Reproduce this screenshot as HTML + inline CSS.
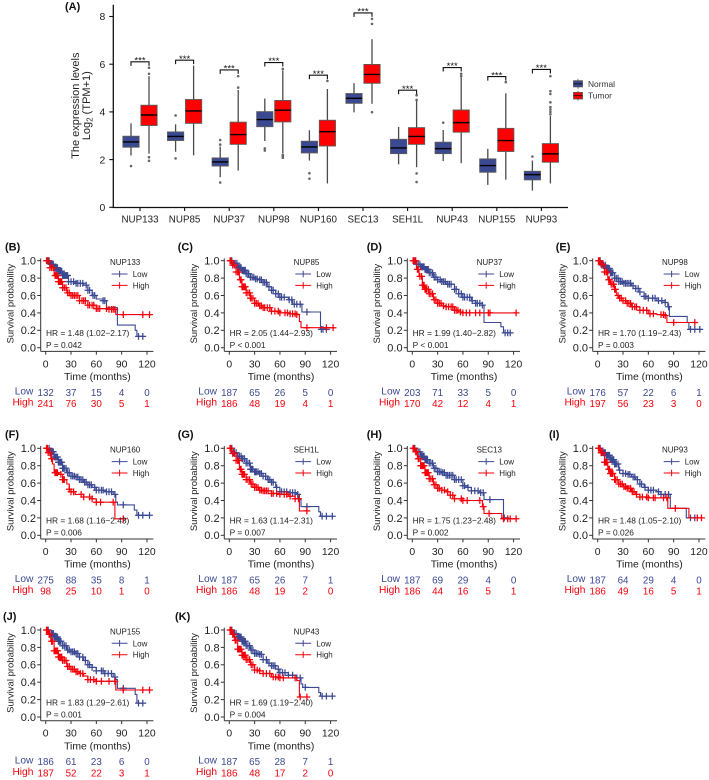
<!DOCTYPE html>
<html lang="en">
<head>
<meta charset="utf-8">
<title>NUP expression and survival</title>
<style>
html,body{margin:0;padding:0;background:#fff;width:709px;height:780px;overflow:hidden}
svg{display:block;font-family:"Liberation Sans",Arial,sans-serif;filter:blur(0.3px)}
</style>
</head>
<body>
<svg id="figure" xmlns="http://www.w3.org/2000/svg" width="709" height="780" viewBox="0 0 709 780">
  <rect x="0" y="0" width="709" height="780" fill="#fff"/>
</svg>
<script>
/* ===== Panel A data ===== */
const boxGenes = ['NUP133','NUP85','NUP37','NUP98','NUP160','SEC13','SEH1L','NUP43','NUP155','NUP93'];
const boxTicks = [0,2,4,6,8];
const normalLo  = [2.17,2.33,1.26,2.78,1.96,3.98,1.80,1.94,0.94,0.70];
const normalQ1  = [2.52,2.80,1.73,3.38,2.28,4.36,2.25,2.25,1.47,1.15];
const normalMed = [2.74,2.97,1.90,3.68,2.53,4.57,2.49,2.46,1.75,1.37];
const normalQ3  = [2.98,3.16,2.07,4.01,2.77,4.77,2.85,2.73,2.03,1.51];
const normalHi  = [3.52,3.48,2.55,4.56,3.23,5.20,3.37,3.24,2.45,1.96];
const normalOutliers = [[1.73],[3.85,2.05],[2.82,2.63,1.04],[2.47,2.38],[1.43,1.20],[],[],[3.55],[],[2.13]];
const tumorLo  = [2.25,2.18,1.54,2.27,1.00,4.34,1.68,1.85,1.16,1.00];
const tumorQ1  = [3.43,3.52,2.64,3.58,2.57,5.20,2.64,3.15,2.34,1.89];
const tumorMed = [3.87,4.04,3.05,4.07,3.17,5.57,2.97,3.55,2.80,2.24];
const tumorQ3  = [4.28,4.52,3.57,4.48,3.65,5.99,3.34,4.08,3.31,2.67];
const tumorHi  = [5.50,5.94,4.92,5.73,4.96,7.05,4.50,5.45,4.78,3.83];
const tumorOutliers = [[5.85,5.60,2.10,1.95],[],[5.50,5.02],[5.80,2.20,2.15,2.08],[5.30],[7.90,7.69,3.99],[4.70,4.50,1.42,1.06],[5.60,5.50],[5.25],[5.50,4.87,4.75,4.40,4.20,4.10,4.00,3.90]];
const bracketTops = [6.10,6.17,5.76,6.07,5.54,8.15,4.91,5.86,5.48,5.78];

/* ===== Survival panel data ===== */
const timeTicks = [0,30,60,90,120];
const survTicks = [0,0.2,0.4,0.6,0.8,1];

const nup133LowT = [0,5,10,15,20,27,35,45,50,55,60,68,72,80,85,104,106,108,115];
const nup133LowS = [1,.96,.92,.88,.83,.76,.74,.72,.66,.60,.56,.54,.46,.46,.26,.26,.20,.13,.13];
const nup133LowC = [2,4,6,7,8,9,10,11,12,13,14,15,16,17,18,19,20,21,22,23,24,25,26,27,30,33,36,38,41,44,48,50,52,56,58,68,70,110,115];
const nup133HighT = [0,5,10,15,20,25,30,40,50,60,75,83,123];
const nup133HighS = [1,.92,.83,.76,.69,.63,.60,.54,.49,.45,.44,.38,.38];
const nup133HighC = [1,3,5,7,9,11,12,13,14,15,16,17,18,19,20,22,24,26,28,30,32,34,36,38,40,43,45,47,50,52,55,57,60,62,64,72,75,78,80,82,92,115,123];
const nup133LowRisk = [132,37,15,4,0];
const nup133HighRisk = [241,76,30,5,1];

const nup85LowT = [0,5,10,15,20,25,30,35,40,45,50,55,60,70,75,85,86,104,108,115];
const nup85LowS = [1,.97,.92,.89,.85,.81,.79,.78,.75,.70,.66,.62,.58,.55,.50,.50,.41,.41,.21,.21];
const nup85LowC = [3,5,7,9,10,11,12,13,14,15,16,17,18,19,20,22,23,25,27,29,31,33,36,38,40,42,44,47,50,52,55,58,60,62,65,71,74,77,80,84,92,109,111,115];
const nup85HighT = [0,3,8,12,15,20,25,30,35,40,50,60,70,80,83,85,123];
const nup85HighS = [1,.95,.87,.78,.70,.63,.57,.51,.48,.46,.42,.40,.39,.38,.30,.23,.23];
const nup85HighC = [1,2,4,6,8,10,11,13,14,15,16,17,18,19,20,22,24,25,26,28,30,32,34,36,38,40,42,45,48,50,54,58,60,66,69,72,75,78,80,92,115,123];
const nup85LowRisk = [187,65,26,5,0];
const nup85HighRisk = [186,48,19,4,1];

const nup37LowT = [0,5,10,15,20,25,30,35,40,50,55,60,70,75,83,85,102,105,108,115];
const nup37LowS = [1,.96,.93,.90,.86,.81,.78,.76,.73,.67,.62,.58,.54,.51,.49,.29,.29,.24,.17,.17];
const nup37LowC = [3,5,7,9,10,11,12,13,14,15,16,17,18,19,20,22,24,26,28,30,33,35,37,39,42,44,46,50,52,55,58,60,62,65,68,71,75,77,80,83,110,113,116];
const nup37HighT = [0,5,8,12,15,20,25,30,35,40,50,55,60,123];
const nup37HighS = [1,.90,.82,.72,.67,.62,.55,.51,.48,.47,.43,.41,.40,.40];
const nup37HighC = [1,2,4,6,7,9,11,12,13,14,15,16,17,19,20,22,24,26,28,30,32,34,37,40,43,46,48,50,52,54,57,60,64,68,75,80,90,92,123];
const nup37LowRisk = [203,71,33,5,0];
const nup37HighRisk = [170,42,12,4,1];

const nup98LowT = [0,5,10,15,20,25,30,40,45,50,55,60,70,80,83,85,104,106,108,124];
const nup98LowS = [1,.95,.91,.86,.80,.76,.74,.71,.68,.64,.59,.57,.54,.52,.47,.36,.36,.29,.21,.21];
const nup98LowC = [3,5,7,9,10,11,12,13,14,15,16,17,18,20,22,24,25,27,29,31,33,35,37,39,42,45,48,50,55,57,60,65,68,72,76,80,84,110,115,121];
const nup98HighT = [0,3,8,12,15,20,22,25,30,35,40,50,60,70,80,82,115];
const nup98HighS = [1,.96,.87,.78,.73,.67,.60,.57,.54,.51,.47,.43,.39,.38,.37,.29,.29];
const nup98HighC = [1,2,4,6,8,10,11,13,14,16,18,19,20,21,24,26,28,30,33,35,37,39,41,44,46,50,54,58,62,66,75,78,80,90,115];
const nup98LowRisk = [176,57,22,6,1];
const nup98HighRisk = [197,56,23,3,0];

const nup160LowT = [0,5,10,15,20,25,30,35,40,45,50,55,60,70,80,83,85,104,105,108,123];
const nup160LowS = [1,.96,.90,.84,.77,.72,.68,.67,.64,.61,.58,.55,.52,.50,.47,.38,.35,.35,.29,.23,.23];
const nup160LowC = [2,4,6,7,8,9,10,11,12,13,14,15,16,17,18,19,20,21,22,24,26,28,30,32,34,36,38,40,42,44,46,48,50,52,54,58,60,63,66,68,72,75,78,82,92,110,115,123];
const nup160HighT = [0,3,6,8,10,15,20,25,28,30,35,45,55,60,80,82,92];
const nup160HighS = [1,.95,.88,.82,.72,.70,.64,.59,.53,.50,.47,.44,.42,.38,.38,.19,.19];
const nup160HighC = [1,2,3,5,7,11,12,13,14,18,20,21,22,28,30,33,42,45,52,55,60,65,80,92];
const nup160LowRisk = [275,88,35,8,1];
const nup160HighRisk = [98,25,10,1,0];

const seh1lLowT = [0,5,10,15,20,25,30,35,40,45,50,55,60,70,80,83,85,104,106,108,123];
const seh1lLowS = [1,.95,.91,.88,.83,.76,.73,.71,.68,.64,.61,.55,.50,.49,.47,.41,.33,.33,.27,.22,.22];
const seh1lLowC = [3,5,6,8,10,12,14,15,16,18,20,22,24,25,26,27,28,30,31,32,34,36,38,40,43,46,48,50,52,56,60,62,65,68,72,75,78,81,92,110,115,122];
const seh1lHighT = [0,3,8,12,15,20,25,30,35,40,50,60,70,78,83,92];
const seh1lHighS = [1,.94,.86,.76,.70,.64,.59,.55,.52,.51,.48,.47,.45,.42,.28,.28];
const seh1lHighC = [1,2,4,6,8,10,11,13,14,15,16,17,18,20,22,24,26,28,30,32,34,36,38,40,42,44,46,50,52,56,60,65,68,72,78,82,92];
const seh1lLowRisk = [187,65,26,7,1];
const seh1lHighRisk = [186,48,19,2,0];

const sec13LowT = [0,5,10,15,20,25,30,35,40,50,60,65,70,80,85,107,108,115];
const sec13LowS = [1,.96,.91,.87,.83,.77,.73,.72,.69,.64,.57,.55,.51,.49,.41,.41,.20,.20];
const sec13LowC = [3,5,7,9,10,11,12,13,14,15,16,17,18,20,22,24,26,28,30,32,34,36,38,40,42,44,46,48,50,52,55,58,60,62,66,70,74,78,81,84,92,109];
const sec13HighT = [0,3,6,10,15,20,25,30,35,40,45,50,60,80,83,85,104,106,123];
const sec13HighS = [1,.96,.88,.80,.72,.65,.58,.54,.52,.50,.46,.42,.40,.40,.33,.25,.25,.19,.19];
const sec13HighC = [1,2,4,5,7,8,10,11,12,13,14,15,16,17,18,19,20,22,24,26,28,30,32,35,38,42,45,48,50,58,60,65,80,84,91,108,113,116,123];
const sec13LowRisk = [187,69,29,4,0];
const sec13HighRisk = [186,44,16,5,1];

const nup93LowT = [0,5,10,15,20,25,30,35,40,45,50,55,60,70,75,85,86,104,105,115];
const nup93LowS = [1,.95,.92,.87,.82,.75,.71,.70,.67,.64,.59,.55,.52,.50,.47,.47,.31,.31,.20,.20];
const nup93LowC = [3,5,7,8,9,10,11,12,13,14,15,16,17,18,19,20,21,22,24,26,30,33,36,38,42,44,47,50,52,56,60,63,66,72,75,80,84,110,115];
const nup93HighT = [0,3,8,12,15,20,25,30,35,40,45,50,60,80,83,107,108,123];
const nup93HighS = [1,.95,.84,.76,.71,.64,.59,.56,.54,.50,.47,.44,.43,.43,.31,.31,.20,.20];
const nup93HighC = [1,2,4,6,8,9,10,11,13,14,15,16,17,18,20,21,23,25,27,29,31,33,35,37,39,41,43,46,50,53,58,60,66,68,78,82,92,118,123];
const nup93LowRisk = [187,64,29,4,0];
const nup93HighRisk = [186,49,16,5,1];

const nup155LowT = [0,5,10,15,20,25,30,35,40,45,50,55,60,70,80,83,85,104,106,108,115];
const nup155LowS = [1,.96,.92,.87,.82,.77,.75,.73,.69,.65,.60,.57,.53,.50,.46,.43,.33,.33,.26,.16,.16];
const nup155LowC = [3,5,7,8,9,10,11,12,13,14,15,16,17,18,20,22,24,26,28,30,32,34,36,38,40,44,47,50,52,55,60,66,68,70,74,78,82,92,110,115];
const nup155HighT = [0,3,6,10,15,20,25,30,35,40,45,50,60,82,83,123];
const nup155HighS = [1,.95,.87,.76,.69,.65,.58,.55,.52,.50,.47,.43,.41,.41,.31,.31];
const nup155HighC = [1,2,4,5,7,8,10,11,12,13,14,15,16,17,18,19,20,22,24,26,28,30,32,34,36,38,41,44,50,53,57,60,66,75,82,92,115,123];
const nup155LowRisk = [186,61,23,6,0];
const nup155HighRisk = [187,52,22,3,1];

const nup43LowT = [0,5,10,15,20,25,30,35,40,45,50,55,60,70,80,85,87,104,106,108,123];
const nup43LowS = [1,.96,.92,.87,.82,.77,.73,.72,.66,.62,.59,.55,.51,.48,.45,.38,.34,.34,.28,.24,.24];
const nup43LowC = [3,5,6,8,10,11,12,13,14,15,16,17,18,19,20,22,24,26,28,30,32,34,36,38,40,44,47,50,52,54,58,60,63,66,70,75,80,84,90,110,115,122];
const nup43HighT = [0,3,6,10,15,20,25,30,35,40,50,60,70,80,83,92];
const nup43HighS = [1,.95,.88,.78,.71,.66,.60,.54,.53,.50,.46,.45,.45,.42,.23,.23];
const nup43HighC = [1,2,4,5,7,8,10,11,12,13,14,15,16,17,18,19,20,22,24,26,28,30,33,36,40,44,48,52,55,58,60,64,78,84,92];
const nup43LowRisk = [187,65,28,7,1];
const nup43HighRisk = [186,48,17,2,0];

const panelIds = ['B','C','D','E','F','G','H','I','J','K'];
const panelGenes = ['NUP133','NUP85','NUP37','NUP98','NUP160','SEH1L','SEC13','NUP93','NUP155','NUP43'];
const panelHR = ['HR = 1.48 (1.02\u22122.17)','HR = 2.05 (1.44\u22122.93)','HR = 1.99 (1.40\u22122.82)','HR = 1.70 (1.19\u22122.43)','HR = 1.68 (1.16\u22122.43)','HR = 1.63 (1.14\u22122.31)','HR = 1.75 (1.23\u22122.48)','HR = 1.48 (1.05\u22122.10)','HR = 1.83 (1.29\u22122.61)','HR = 1.69 (1.19\u22122.40)'];
const panelP = ['P = 0.042','P < 0.001','P < 0.001','P = 0.003','P = 0.006','P = 0.007','P = 0.002','P = 0.026','P = 0.001','P = 0.004'];
const lowTimes = [nup133LowT,nup85LowT,nup37LowT,nup98LowT,nup160LowT,seh1lLowT,sec13LowT,nup93LowT,nup155LowT,nup43LowT];
const lowSurv = [nup133LowS,nup85LowS,nup37LowS,nup98LowS,nup160LowS,seh1lLowS,sec13LowS,nup93LowS,nup155LowS,nup43LowS];
const lowCens = [nup133LowC,nup85LowC,nup37LowC,nup98LowC,nup160LowC,seh1lLowC,sec13LowC,nup93LowC,nup155LowC,nup43LowC];
const highTimes = [nup133HighT,nup85HighT,nup37HighT,nup98HighT,nup160HighT,seh1lHighT,sec13HighT,nup93HighT,nup155HighT,nup43HighT];
const highSurv = [nup133HighS,nup85HighS,nup37HighS,nup98HighS,nup160HighS,seh1lHighS,sec13HighS,nup93HighS,nup155HighS,nup43HighS];
const highCens = [nup133HighC,nup85HighC,nup37HighC,nup98HighC,nup160HighC,seh1lHighC,sec13HighC,nup93HighC,nup155HighC,nup43HighC];
const lowRisk = [nup133LowRisk,nup85LowRisk,nup37LowRisk,nup98LowRisk,nup160LowRisk,seh1lLowRisk,sec13LowRisk,nup93LowRisk,nup155LowRisk,nup43LowRisk];
const highRisk = [nup133HighRisk,nup85HighRisk,nup37HighRisk,nup98HighRisk,nup160HighRisk,seh1lHighRisk,sec13HighRisk,nup93HighRisk,nup155HighRisk,nup43HighRisk];

/* ===== Layout (not data) ===== */
const NS = 'http://www.w3.org/2000/svg';
const BLUE = '#3b4992', RED = '#f5000a', INK = '#222222';
const layoutOx = [45.7,229.3,412.3,597.7,45.7,229.3,412.3,597.7,45.7,229.3];
const layoutOy = [260.7,260.7,260.7,260.7,448.3,448.3,448.3,448.3,630,630];
const layoutLetterX = [5,177.7,366.7,555.7,5,177.7,366.7,549,3,175];
const svg = document.getElementById('figure');

function mk(tag, attrs, parent, txt) {
  const n = document.createElementNS(NS, tag);
  for (const k in attrs) n.setAttribute(k, attrs[k]);
  if (txt !== undefined) n.textContent = txt;
  parent.appendChild(n);
  return n;
}

/* ----- Panel A ----- */
const xBox = i => 140 + i * 44.6;
const yBox = v => 207.3 - v * 23.85;
const gA = mk('g', {}, svg);



let el = mk('text', {x:65, y:10, 'font-size':11, 'font-weight':'bold', fill:'#111'}, gA, '(A)');



el = mk('text', {transform:'translate(79,105.7) rotate(-90)', 'text-anchor':'middle', 'font-size':11, fill:INK}, gA, 'The expression levels');



el = mk('text', {transform:'translate(90,105.7) rotate(-90)', 'text-anchor':'middle', 'font-size':11, fill:INK}, gA);


mk('tspan', {}, el, 'Log');
mk('tspan', {'font-size':8, dy:2.5}, el, '2');
mk('tspan', {dy:-2.5}, el, ' (TPM+1)');

el = mk('line', {x1:113.3, x2:113.3, y1:4.7, y2:208, stroke:'#111', 'stroke-width':1.3}, gA);



el = mk('line', {x1:112.7, x2:568, y1:207.5, y2:207.5, stroke:'#111', 'stroke-width':1.3}, gA);



boxTicks.forEach(v => {
  const t = mk('line', {x1:109.3, x2:113.3, y1:yBox(v), y2:yBox(v), stroke:'#111', 'stroke-width':1.1}, gA);
  
  
  const l = mk('text', {x:105.3, y:yBox(v) + 3.7, 'text-anchor':'end', 'font-size':10.4, fill:INK}, gA, String(v));
  
  
});

function drawBox(parent, cx, lo, q1, med, q3, hi, outs, fill, series) {
  const w = mk('line', {x1:cx, x2:cx, y1:yBox(lo), y2:yBox(hi), stroke:'#4a4a4a', 'stroke-width':1.3}, parent);
  
  
  const b = mk('rect', {x:cx - 8.1, y:yBox(q3), width:16.2, height:yBox(q1) - yBox(q3), fill:fill, stroke:'#5a5a5a', 'stroke-width':0.9}, parent);
  
  
  const m = mk('line', {x1:cx - 8.1, x2:cx + 8.1, y1:yBox(med), y2:yBox(med), stroke:'#000', 'stroke-width':1.4}, parent);
  
  
  outs.forEach(v => {
    const o = mk('circle', {cx:cx, cy:yBox(v), r:1.3, fill:'#666'}, parent);
    
    
  });
}

boxGenes.forEach((gene, i) => {
  const g = mk('g', {}, gA);
  
  
  const c = xBox(i);
  const tk = mk('line', {x1:c, x2:c, y1:207.5, y2:211, stroke:'#111', 'stroke-width':1.1}, g);
  
  
  const lb = mk('text', {x:c, y:222.7, 'text-anchor':'middle', 'font-size':9.8, fill:INK}, g, gene);
  
  
  drawBox(g, c - 9, normalLo[i], normalQ1[i], normalMed[i], normalQ3[i], normalHi[i], normalOutliers[i], BLUE, 'normal');
  drawBox(g, c + 9, tumorLo[i], tumorQ1[i], tumorMed[i], tumorQ3[i], tumorHi[i], tumorOutliers[i], '#f00', 'tumor');
  const yt = yBox(bracketTops[i]);
  const br = mk('path', {d:`M${c - 9} ${yt + 4}V${yt}H${c + 9}V${yt + 4}`, fill:'none', stroke:'#111', 'stroke-width':1.1}, g);
  
  
  const st = mk('text', {x:c, y:yt + 1.7, 'text-anchor':'middle', 'font-size':9.6, fill:'#111'}, g, '***');
  
  
});

/* legend A */
const legA = mk('g', {}, gA);


[['Normal', BLUE, 80.7, 6.2, 87.2], ['Tumor', '#f00', 92.4, 6.6, 98.6]].forEach(row => {
  const wl = mk('line', {x1:578, x2:578, y1:row[2] - 1.8, y2:row[2] + row[3] + 1.8, stroke:'#555', 'stroke-width':0.8}, legA);
  
  
  const r = mk('rect', {x:573.5, y:row[2], width:9, height:row[3], fill:row[1], stroke:'#555', 'stroke-width':0.8}, legA);
  
  
  const ml = mk('line', {x1:573.5, x2:582.5, y1:row[2] + row[3] / 2, y2:row[2] + row[3] / 2, stroke:'#111', 'stroke-width':0.9}, legA);
  
  
  const tx = mk('text', {x:588, y:row[4], 'font-size':8.4, fill:'#333'}, legA, row[0]);
  
  
});

/* ----- Survival panels ----- */
const PX_PER_MONTH = 0.844, SURV_PX = 87;

function stepValue(ts, ss, t) {
  let v = ss[0];
  for (let i = 0; i < ts.length; i++) { if (ts[i] <= t) v = ss[i]; }
  return v;
}

panelIds.forEach((id, p) => {
  const ox = layoutOx[p], oy = layoutOy[p];
  const xT = t => ox + t * PX_PER_MONTH;
  const yS = s => oy + (1 - s) * SURV_PX;
  const G = mk('g', {}, svg);
  
  

  const pl = mk('text', {x:layoutLetterX[p], y:oy - 10.2, 'font-size':11, 'font-weight':'bold', fill:'#111'}, G, `(${id})`);
  
  

  const ya = mk('line', {x1:ox - 5, x2:ox - 5, y1:oy - 2.3, y2:oy + 90.7, stroke:'#333', 'stroke-width':1}, G);
  
  
  const xa = mk('line', {x1:ox - 5, x2:ox + 107.7, y1:oy + 90.7, y2:oy + 90.7, stroke:'#333', 'stroke-width':1}, G);
  
  

  survTicks.forEach(v => {
    const t = mk('line', {x1:ox - 8.5, x2:ox - 5, y1:yS(v), y2:yS(v), stroke:'#333', 'stroke-width':1}, G);
    
    
    const l = mk('text', {x:ox - 9.7, y:yS(v) + 3.9, 'text-anchor':'end', 'font-size':11, fill:INK}, G, v.toFixed(1));
    
    
  });

  timeTicks.forEach((v, k) => {
    const t = mk('line', {x1:xT(v), x2:xT(v), y1:oy + 90.7, y2:oy + 94, stroke:'#333', 'stroke-width':1}, G);
    
    
    const l = mk('text', {x:xT(v), y:oy + 106.6, 'text-anchor':'middle', 'font-size':10.4, fill:INK}, G, String(v));
    
    
    const rl = mk('text', {x:xT(v), y:oy + 135.2, 'text-anchor':'middle', 'font-size':9.8, fill:BLUE}, G, String(lowRisk[p][k]));
    
    
    const rh = mk('text', {x:xT(v), y:oy + 146.4, 'text-anchor':'middle', 'font-size':9.8, fill:RED}, G, String(highRisk[p][k]));
    
    
  });

  const yt = mk('text', {transform:`translate(${ox - 32.2},${oy + 43}) rotate(-90)`, 'text-anchor':'middle', 'font-size':9.5, fill:INK}, G, 'Survival probability');
  
  
  const xt = mk('text', {x:ox + 51.7, y:oy + 119.3, 'text-anchor':'middle', 'font-size':10.4, fill:INK}, G, 'Time (months)');
  
  
  const rL = mk('text', {x:ox - 12.3, y:oy + 133.6, 'text-anchor':'end', 'font-size':10.2, fill:BLUE}, G, 'Low');
  
  
  const rH = mk('text', {x:ox - 12.3, y:oy + 144.8, 'text-anchor':'end', 'font-size':10.2, fill:RED}, G, 'High');
  
  

  /* curves */
  [['low', lowTimes[p], lowSurv[p], lowCens[p], BLUE], ['high', highTimes[p], highSurv[p], highCens[p], RED]].forEach(c => {
    const ts = c[1], ss = c[2];
    let d = `M${xT(ts[0]).toFixed(1)} ${yS(ss[0]).toFixed(1)}`;
    for (let i = 1; i < ts.length; i++) {
      d += `H${xT(ts[i]).toFixed(1)}V${yS(ss[i]).toFixed(1)}`;
    }
    const ln = mk('path', {d:d, fill:'none', stroke:c[4], 'stroke-width':1.1}, G);
    
    
    c[3].forEach(t => {
      const x = xT(t), y = yS(stepValue(ts, ss, t));
      const cm = mk('path', {d:`M${(x - 3.4).toFixed(1)} ${y.toFixed(1)}h6.8M${x.toFixed(1)} ${(y - 3.4).toFixed(1)}v6.8`, fill:'none', stroke:c[4], 'stroke-width':1.25}, G);
      
      
    });
  });

  /* legend */
  const gn = mk('text', {x:ox + 64.3, y:oy + 4.3, 'font-size':8, fill:'#222'}, G, panelGenes[p]);
  
  
  [['Low', BLUE, 13.3], ['High', RED, 24.7]].forEach(row => {
    const y = oy + row[2];
    const lg = mk('path', {d:`M${ox + 66} ${y}h15.8M${ox + 73.9} ${y - 3.2}v6.4`, fill:'none', stroke:row[1], 'stroke-width':1}, G);
    
    
    const tx = mk('text', {x:ox + 87, y:y + 3, 'font-size':8, fill:'#222'}, G, row[0]);
    
    
  });

  const hr = mk('text', {x:ox + 0.3, y:oy + 75.3, 'font-size':8.4, fill:'#222'}, G, panelHR[p]);
  
  
  const pv = mk('text', {x:ox + 0.3, y:oy + 87.3, 'font-size':8.4, fill:'#222'}, G, panelP[p]);
  
  
});
</script>
</body>
</html>
